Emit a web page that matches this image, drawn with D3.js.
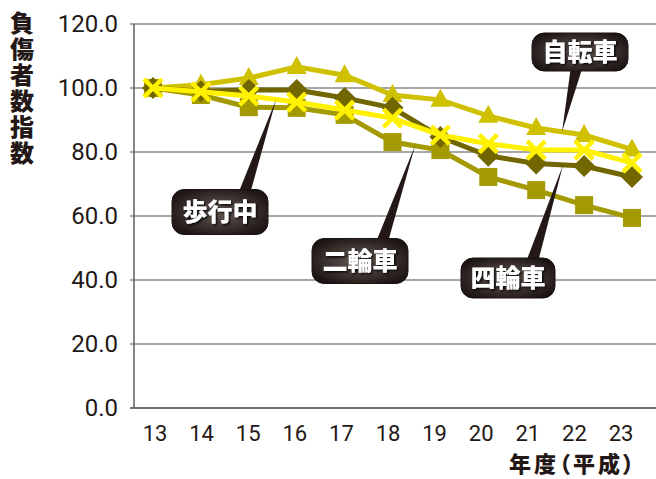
<!DOCTYPE html>
<html><head><meta charset="utf-8">
<script src="https://cdn.jsdelivr.net/npm/d3@7"></script>
<style>body{margin:0;background:#fff}svg{display:block}</style>
</head><body>
<script>
const categories = ["13","14","15","16","17","18","19","20","21","22","23"];
const yTicks = [0,20,40,60,80,100,120];
const bicycle    = [100,101.0,103.1,106.6,104.0,97.8,96.3,91.3,87.5,85.3,80.8]; // 自転車 triangle
const motorcycle = [100,97.8,94.0,93.8,91.6,83.1,80.6,72.2,68.1,63.4,59.4];    // 二輪車 square
const car        = [100,99.0,99.4,99.4,96.9,93.8,84.7,78.8,76.4,75.6,72.2];    // 四輪車 diamond
const pedestrian = [100,98.8,97.5,95.6,93.1,90.6,85.3,82.6,80.6,80.6,76.6];    // 歩行中 x
const seriesNames = ["自転車","二輪車","四輪車","歩行中"];
const yTitle = "負傷者数指数";
const xTitle = "年度（平成）";

const W = 656, H = 479;
const svg = d3.select("body").append("svg").attr("width", W).attr("height", H);
const x = d3.scalePoint().domain(categories).range([153, 632]);
const xLab = d3.scalePoint().domain(categories).range([155, 621]);
const y = d3.scaleLinear().domain([0,120]).range([408, 24]);

const defs = svg.append("defs");
const rg = defs.append("radialGradient").attr("id","boxg").attr("cx","50%").attr("cy","50%").attr("r","60%");
rg.append("stop").attr("offset","0%").attr("stop-color","#6a5d58");
rg.append("stop").attr("offset","55%").attr("stop-color","#3e3431");
rg.append("stop").attr("offset","100%").attr("stop-color","#1a1311");
const f = defs.append("filter").attr("id","tsh").attr("x","-20%").attr("y","-20%").attr("width","140%").attr("height","140%");
f.append("feDropShadow").attr("dx",1.5).attr("dy",1.5).attr("stdDeviation",1.2).attr("flood-color","#000").attr("flood-opacity",0.9);

// gridlines
svg.append("g").selectAll("line").data(yTicks).join("line")
  .attr("x1", 130).attr("x2", W).attr("y1", d=>y(d)).attr("y2", d=>y(d))
  .attr("stroke", d=> d===0 ? "#444" : "#8c8888").attr("stroke-width", 1.6);
svg.append("line").attr("x1",134).attr("x2",134).attr("y1",y(120)).attr("y2",y(0))
  .attr("stroke","#666").attr("stroke-width",1.6);

// y labels
svg.append("g").selectAll("text").data(yTicks).join("text")
  .attr("x", 118).attr("y", d=>y(d)+8).attr("text-anchor","end")
  .attr("font-family","Roboto, sans-serif").attr("font-size",24).attr("fill","#231815")
  .text(d=>d.toFixed(1));
// x labels
svg.append("g").selectAll("text").data(categories).join("text")
  .attr("x", d=>xLab(d)).attr("y", 441).attr("text-anchor","middle")
  .attr("font-family","Roboto, sans-serif").attr("font-size",22).attr("fill","#231815")
  .text(d=>d);
// titles
svg.append("text").attr("x", 22).attr("y", 11)
  .style("writing-mode","vertical-rl").style("text-orientation","upright")
  .attr("font-family","'Noto Sans CJK JP', sans-serif").attr("font-weight",900).attr("font-size",24)
  .attr("letter-spacing",2).attr("fill","#231815").text(yTitle);
svg.append("text").attr("x", 637).attr("y", 472).attr("text-anchor","end")
  .style("font-feature-settings","'palt'")
  .attr("font-family","'Noto Sans CJK JP', sans-serif").attr("font-weight",900).attr("font-size",22)
  .attr("letter-spacing",3).attr("fill","#231815").text(xTitle);

const series = [
  {name:seriesNames[0], vals:bicycle, color:"#d0c100", shape:"tri"},
  {name:seriesNames[1], vals:motorcycle, color:"#a39900", shape:"sq"},
  {name:seriesNames[2], vals:car, color:"#716600", shape:"dia"},
  {name:seriesNames[3], vals:pedestrian, color:"#fff100", shape:"x"}
];
const line = d3.line().x((d,i)=>x(categories[i])).y(d=>y(d));
series.forEach(s=>{
  const g = svg.append("g");
  g.append("path").attr("d", line(s.vals)).attr("fill","none").attr("stroke", s.color).attr("stroke-width",5);
  s.vals.forEach((v,i)=>{
    const cx = x(categories[i]), cy = y(v);
    if (s.shape==="tri") g.append("path").attr("d", `M${cx},${cy-11}L${cx+10},${cy+7}L${cx-10},${cy+7}Z`).attr("fill", s.color);
    else if (s.shape==="sq") g.append("rect").attr("x",cx-9).attr("y",cy-9).attr("width",18).attr("height",18).attr("fill",s.color);
    else if (s.shape==="dia") g.append("path").attr("d", `M${cx},${cy-11}L${cx+11},${cy}L${cx},${cy+11}L${cx-11},${cy}Z`).attr("fill", s.color);
    else g.append("path").attr("d", `M${cx-9},${cy-9}L${cx+9},${cy+9}M${cx+9},${cy-9}L${cx-9},${cy+9}`).attr("stroke", s.color).attr("stroke-width",4.5);
  });
});

// callouts: [series index, fractional position along categories, box center, pointer base]
const callouts = [
  {s:3, t:2.57, bx:220, by:212, px:244, py:194, w:96, h:45},
  {s:1, t:5.47, bx:360, by:261, px:382, py:242, w:96, h:45},
  {s:2, t:8.56, bx:508, by:278, px:532, py:262, w:94, h:40},
  {s:0, t:8.54, bx:580, by:52,  px:577, py:66,  w:96, h:38}
];
callouts.forEach(c=>{
  const s = series[c.s];
  const i0 = Math.floor(c.t), fr = c.t - i0;
  const tx = x(categories[i0]) + fr*(x(categories[i0+1]) - x(categories[i0]));
  const ty = y(s.vals[i0] + fr*(s.vals[i0+1]-s.vals[i0]));
  const g = svg.append("g");
  g.append("path").attr("d", `M${c.px-6},${c.py}L${tx},${ty}L${c.px+6},${c.py}Z`).attr("fill","#231815");
  g.append("rect").attr("x",c.bx-c.w/2).attr("y",c.by-c.h/2).attr("width",c.w).attr("height",c.h)
    .attr("rx",12).attr("fill","url(#boxg)").attr("stroke","#1a1311").attr("stroke-width",1);
  g.append("text").attr("x",c.bx).attr("y",c.by+9).attr("text-anchor","middle")
    .attr("font-family","'Noto Sans CJK JP', sans-serif").attr("font-weight",900).attr("font-size",25)
    .attr("fill","#fff").attr("filter","url(#tsh)").text(s.name);
});
</script>
</body></html>
